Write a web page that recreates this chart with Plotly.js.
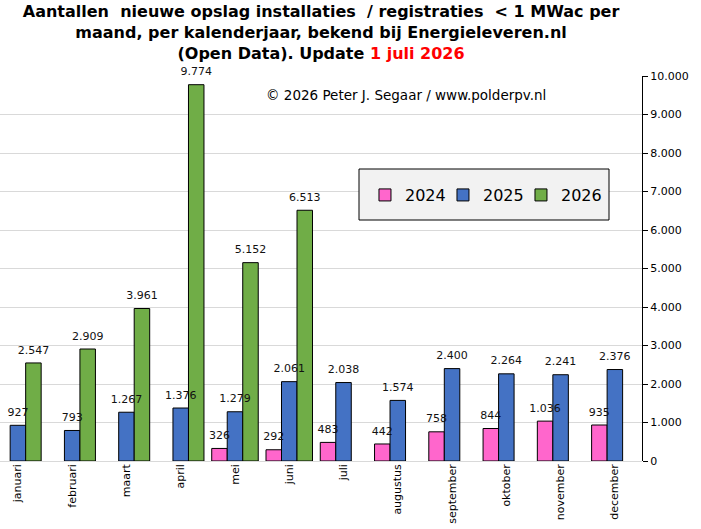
<!DOCTYPE html>
<html>
<head>
<meta charset="utf-8">
<script src="https://cdn.plot.ly/plotly-3.0.1.min.js"></script>
<style>
body { margin: 0; background: white; }
#chart_div { width: 701px; height: 529px; }
</style>
</head>
<body>
<div id="chart_div"></div>
<script>
var months = ["januari", "februari", "maart", "april", "mei", "juni", "juli",
    "augustus", "september", "oktober", "november", "december"];
var years = ["2024", "2025", "2026"];
var values2024 = [null, null, null, null, 326, 292, 483, 442, 758, 844, 1036, 935];
var values2025 = [927, 793, 1267, 1376, 1279, 2061, 2038, 1574, 2400, 2264, 2241, 2376];
var values2026 = [2547, 2909, 3961, 9774, 5152, 6513, null, null, null, null, null, null];
var barColors = ["#ff66cc", "#4472c4", "#70ad47"];

var font_main = "DejaVu Sans, Verdana, sans-serif";

function makeBarTrace(name, yvals, color) {
    var trace = {
        x: months,
        y: yvals,
        name: name,
        type: 'bar',
        offsetgroup: name,
        marker: {
            color: color,
            line: {
                color: "black",
                width: 1
            }
        },
        hoverinfo: 'x+y+name'
    }
    return(trace);
}

// labels as separate text traces so they sit on top of all bars;
// the invisible marker only sets the gap between bar top and label
function makeLabelTrace(name, yvals) {
    var trace = {
        x: months,
        y: yvals,
        name: name,
        type: 'scatter',
        mode: 'markers+text',
        offsetgroup: name,
        marker: {size: 9, opacity: 0},
        texttemplate: '%{y:,d}',
        textposition: 'top center',
        cliponaxis: false,
        textfont: {
            family: font_main,
            size: 11,
            color: "#111111"
        },
        showlegend: false,
        hoverinfo: 'skip'
    }
    return(trace);
}

function drawChart() {
    var data = [
        makeBarTrace(years[0], values2024, barColors[0]),
        makeBarTrace(years[1], values2025, barColors[1]),
        makeBarTrace(years[2], values2026, barColors[2]),
        makeLabelTrace(years[0], values2024),
        makeLabelTrace(years[1], values2025),
        makeLabelTrace(years[2], values2026)
    ];

    var layout = {
        width: 701,
        height: 529,
        margin: {l: 0, r: 59, t: 76, b: 68},
        paper_bgcolor: "white",
        plot_bgcolor: "white",
        separators: ",.",
        barmode: 'group',
        bargap: 0.143,
        bargroupgap: 0,
        scattermode: 'group',
        scattergap: 0.143,
        showlegend: true,
        title: {
            text: "<b>Aantallen  nieuwe opslag installaties  / registraties  &lt; 1 MWac per<br>" +
                  "maand, per kalenderjaar, bekend bij Energieleveren.nl<br>" +
                  "(Open Data). Update <span style='color:#ff0000'>1 juli 2026</span></b>",
            font: {
                family: "DejaVu Sans, Verdana, sans-serif",
                size: 16,
                color: "black"
            },
            x: 0.458,
            xanchor: 'center',
            xref: 'container',
            y: 0.968,
            yanchor: 'top',
            yref: 'container'
        },
        xaxis: {
            type: 'category',
            range: [-0.33, 11.5],
            tickangle: -90,
            showgrid: false,
            showline: false,
            ticks: '',
            tickfont: {family: font_main, size: 11, color: "black"},
            fixedrange: true
        },
        yaxis: {
            side: 'right',
            range: [0, 10000],
            dtick: 1000,
            tickformat: ',d',
            showline: true,
            linecolor: "black",
            linewidth: 1,
            ticks: 'outside',
            ticklen: 5,
            tickcolor: "black",
            showgrid: true,
            gridcolor: "#d9d9d9",
            zeroline: true,
            zerolinecolor: "#d9d9d9",
            tickfont: {family: font_main, size: 11, color: "black"},
            fixedrange: true
        },
        legend: {
            orientation: 'h',
            x: 0.5685,
            y: 0.735,
            xanchor: 'left',
            yanchor: 'top',
            bgcolor: 'rgba(0,0,0,0)',
            borderwidth: 0,
            entrywidth: 33,
            entrywidthmode: 'pixels',
            font: {family: font_main, size: 16, color: "black"}
        },
        shapes: [{
            type: 'rect',
            xref: 'paper',
            yref: 'paper',
            x0: 359/642,
            x1: 609/642,
            y0: (461-220)/385,
            y1: (461-169)/385,
            fillcolor: "#f2f2f2",
            line: {color: "black", width: 1},
            layer: 'above'
        }],
        annotations: [{
            text: "© 2026 Peter J. Segaar / www.polderpv.nl",
            xref: 'paper',
            yref: 'paper',
            x: 0.633,
            y: 0.951,
            xanchor: 'center',
            yanchor: 'middle',
            showarrow: false,
            font: {family: font_main, size: 13.5, color: "black"}
        }]
    }

    Plotly.newPlot("chart_div", data, layout, {displayModeBar: false}).then(function(gd) {
        // the narrow entrywidth would otherwise clip the last legend label
        var clipped = gd.querySelectorAll('.legend [clip-path]');
        for (var i = 0; i < clipped.length; i++) {
            clipped[i].removeAttribute('clip-path');
        }
    });
}

drawChart();
</script>
</body>
</html>
